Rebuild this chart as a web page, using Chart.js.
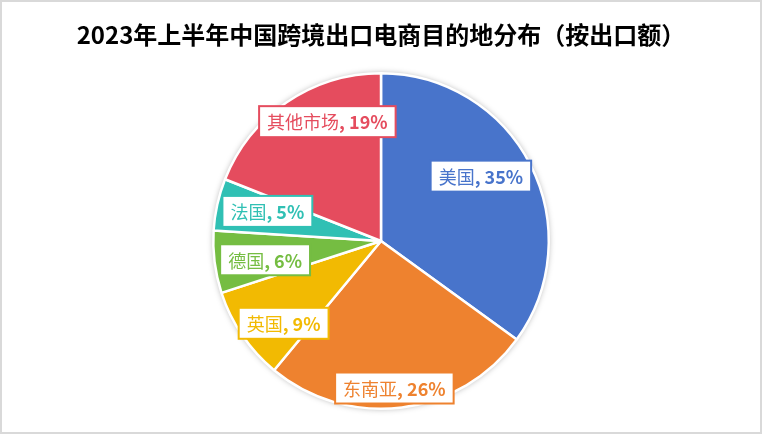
<!DOCTYPE html>
<html>
<head>
<meta charset="utf-8">
<script src="https://cdn.jsdelivr.net/npm/chart.js@4.4.0/dist/chart.umd.min.js"></script>
<style>
    html, body { margin: 0; padding: 0; background: #fff; }
    #box { position: absolute; left: 0; top: 0; width: 762px; height: 434px; box-sizing: border-box; border: 2px solid #d9d9d9; }
    canvas { display: block; }
</style>
</head>
<body>
<div id="box"><canvas id="myChart" width="758" height="430"></canvas></div>
<script>
const categories = ['美国', '东南亚', '英国', '德国', '法国', '其他市场']
const shares = [35, 26, 9, 6, 5, 19]
const colors = ['#4874CB', '#EE822F', '#F2BA02', '#75BD42', '#30C0B4', '#E54C5E']

// where each label box sits: [angle nudge in degrees, distance as part of the radius]
const labelPlace = [[-6, 0.71], [2, 0.88], [-6, 0.76], [-2, 0.70], [2, 0.70], [10, 0.78]]

// soft halo round the pie, drawn under the slices
const pieHalo = {
    id: 'pieHalo',
    beforeDatasetsDraw(chart) {
        const arc = chart.getDatasetMeta(0).data[0]
        if (!arc) return
        const p = arc.getProps(['x', 'y', 'outerRadius'], true)
        const ctx = chart.ctx
        ctx.save()
        ctx.shadowColor = 'rgba(0, 0, 0, 0.35)'
        ctx.shadowBlur = 6
        ctx.fillStyle = '#fff'
        ctx.beginPath()
        ctx.arc(p.x, p.y, p.outerRadius, 0, Math.PI * 2)
        ctx.fill()
        ctx.restore()
    }
}

const boxLabels = {
    id: 'boxLabels',
    afterDatasetsDraw(chart) {
        const ctx = chart.ctx
        const meta = chart.getDatasetMeta(0)
        meta.data.forEach((arc, i) => {
            const p = arc.getProps(['x', 'y', 'startAngle', 'endAngle', 'outerRadius'], true)
            const mid = (p.startAngle + p.endAngle) / 2 + labelPlace[i][0] * Math.PI / 180
            const dist = p.outerRadius * labelPlace[i][1]
            const cx = p.x + Math.cos(mid) * dist
            const cy = p.y + Math.sin(mid) * dist

            const name = categories[i]
            const tail = ', ' + shares[i] + '%'
            const fName = '18px "Noto Sans CJK SC"'
            const fTail = 'bold 18px "Noto Sans CJK SC"'
            ctx.save()
            ctx.font = fName
            const w1 = ctx.measureText(name).width
            ctx.font = fTail
            const w2 = ctx.measureText(tail).width
            const w = w1 + w2 + 16
            const h = 31
            const left = cx - w / 2
            ctx.fillStyle = '#fff'
            ctx.fillRect(left, cy - h / 2, w, h)
            ctx.strokeStyle = colors[i]
            ctx.lineWidth = 2
            ctx.strokeRect(left, cy - h / 2, w, h)
            ctx.fillStyle = colors[i]
            ctx.textBaseline = 'middle'
            ctx.textAlign = 'left'
            ctx.font = fName
            ctx.fillText(name, left + 8, cy + 1)
            ctx.font = fTail
            ctx.fillText(tail, left + 8 + w1, cy + 1)
            ctx.restore()
        })
    }
}

const ctx = document.getElementById('myChart').getContext('2d')
const myChart = new Chart(ctx, {
    type: 'pie',
    data: {
        labels: categories,
        datasets: [{
            data: shares,
            backgroundColor: colors,
            borderColor: '#fff',
            borderWidth: 2.5
        }]
    },
    options: {
        responsive: false,
        animation: false,
        layout: { padding: { bottom: 22 } },
        plugins: {
            legend: { display: false },
            tooltip: { enabled: false },
            title: {
                display: true,
                text: '2023年上半年中国跨境出口电商目的地分布（按出口额）',
                color: '#000',
                font: { family: '"Noto Sans CJK SC"', size: 24, weight: 'bold', lineHeight: 1.2 },
                padding: { top: 18, bottom: 23.2 }
            }
        }
    },
    plugins: [pieHalo, boxLabels]
})
</script>
</body>
</html>
